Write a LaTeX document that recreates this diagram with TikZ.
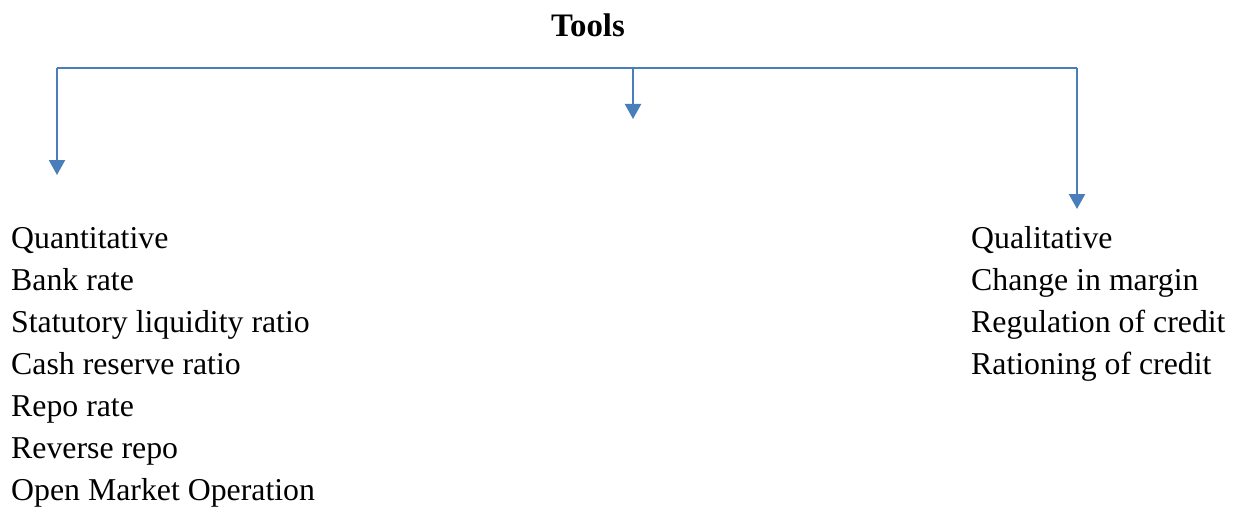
\documentclass[tikz,border=0pt]{standalone}
\usepackage{fontspec}
\setmainfont{Liberation Serif}
\usetikzlibrary{arrows.meta}
\definecolor{wordblue}{HTML}{4A7EBB}
\begin{document}
\begin{tikzpicture}[x=1pt,y=-1pt,
  item/.style={anchor=base west,inner sep=0pt,font=\fontsize{31.8}{42}\selectfont},
  conn/.style={draw=wordblue,line width=2.2pt},
  arr/.style={conn,-{Triangle[width=16pt,length=15pt]}}]
\useasboundingbox (0,0) rectangle (1238,508);
\node[anchor=base,inner sep=0pt,font=\fontsize{32.8}{42}\selectfont\bfseries] (tools) at (588,37) {Tools};
\coordinate (hl) at (57,68);
\coordinate (hm) at (633,68);
\coordinate (hr) at (1077,68);
\coordinate (el) at (57,175);
\coordinate (em) at (633,119);
\coordinate (er) at (1077,209);
\draw[conn] (hl) -- (hr);
\draw[arr] (hl) -- (el);
\draw[arr] (hm) -- (em);
\draw[arr] (hr) -- (er);
\node[item] (q0) at (11,248) {Quantitative};
\node[item] (q1) at (11,290) {Bank rate};
\node[item] (q2) at (11,332) {Statutory liquidity ratio};
\node[item] (q3) at (11,374) {Cash reserve ratio};
\node[item] (q4) at (11,416) {Repo rate};
\node[item] (q5) at (11,458) {Reverse repo};
\node[item] (q6) at (11,500) {Open Market Operation};
\node[item] (r0) at (971,248) {Qualitative};
\node[item] (r1) at (971,290) {Change in margin};
\node[item] (r2) at (971,332) {Regulation of credit};
\node[item] (r3) at (971,374) {Rationing of credit};
\end{tikzpicture}
\end{document}
